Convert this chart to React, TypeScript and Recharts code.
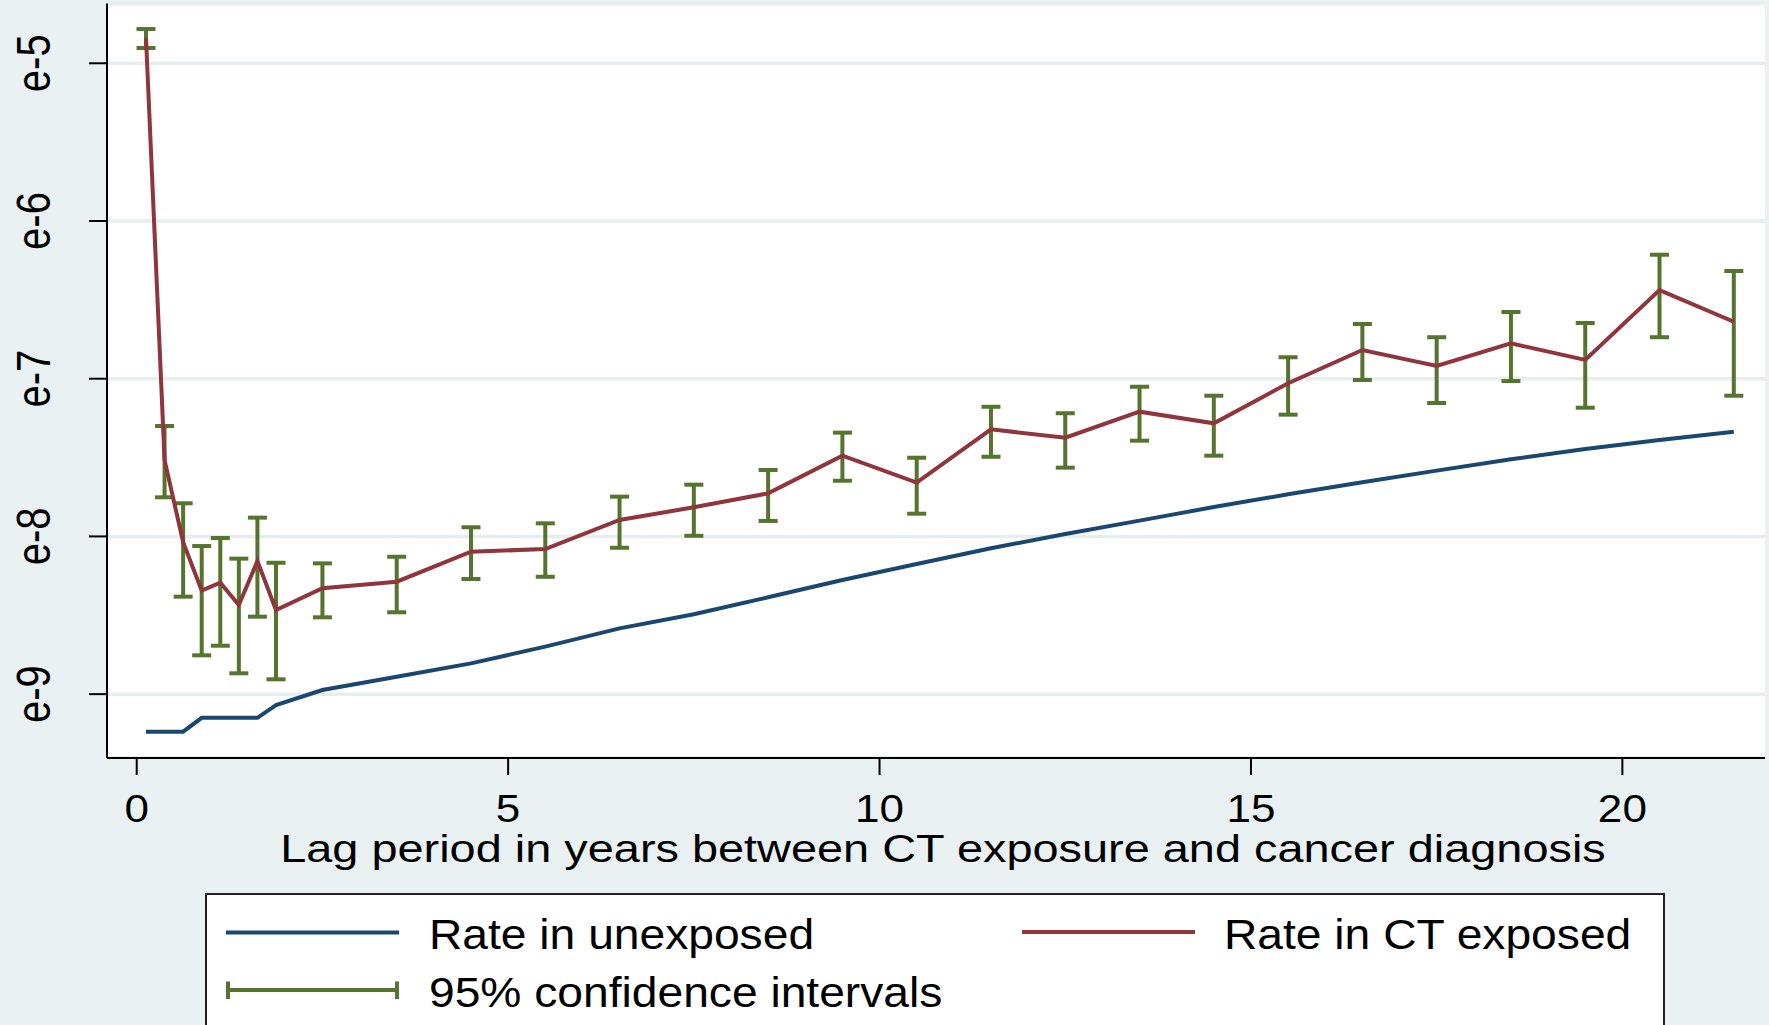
import React from "react";
import {
  ComposedChart,
  Line,
  XAxis,
  YAxis,
  CartesianGrid,
  ErrorBar,
  Legend,
  Label,
} from "recharts";

// lag period midpoints (years)
const lagYears = [
  0.125, 0.375, 0.625, 0.875, 1.125, 1.375, 1.625, 1.875, 2.5, 3.5, 4.5, 5.5, 6.5, 7.5,
  8.5, 9.5, 10.5, 11.5, 12.5, 13.5, 14.5, 15.5, 16.5, 17.5, 18.5, 19.5, 20.5, 21.5,
];

// log rates (natural log scale, axis labelled e-n)
const rateUnexposed = [
  -9.238, -9.238, -9.238, -9.15, -9.15, -9.15, -9.15, -9.069, -8.974, -8.89, -8.805,
  -8.699, -8.583, -8.494, -8.386, -8.276, -8.175, -8.075, -7.985, -7.9, -7.814, -7.733,
  -7.657, -7.583, -7.511, -7.446, -7.389, -7.336,
];

const rateExposed = [
  -4.84, -7.516, -8.036, -8.344, -8.294, -8.435, -8.156, -8.467, -8.329, -8.287, -8.097,
  -8.08, -7.896, -7.815, -7.727, -7.488, -7.659, -7.321, -7.374, -7.209, -7.283, -7.029,
  -6.818, -6.919, -6.776, -6.881, -6.438, -6.639,
];

const ciLower = [
  -4.903, -7.752, -8.382, -8.754, -8.693, -8.868, -8.509, -8.906, -8.513, -8.481, -8.27,
  -8.256, -8.072, -7.996, -7.902, -7.647, -7.856, -7.495, -7.564, -7.393, -7.488, -7.228,
  -7.008, -7.154, -7.015, -7.184, -6.737, -7.108,
];

const ciUpper = [
  -4.783, -7.3, -7.79, -8.061, -8.01, -8.141, -7.881, -8.167, -8.171, -8.129, -7.942,
  -7.917, -7.748, -7.672, -7.579, -7.342, -7.501, -7.178, -7.219, -7.051, -7.108, -6.864,
  -6.653, -6.737, -6.577, -6.647, -6.214, -6.317,
];

const xTicks = [0, 5, 10, 15, 20];
const yTicks = [-9, -8, -7, -6, -5];

const NAVY = "#1A476F";
const MAROON = "#90353B";
const GREEN = "#55752F";
const BG = "#EAF1F3";
const GRID = "#E6EEF0";
const FONT = "'Liberation Sans', Arial, Helvetica, sans-serif";

const data = lagYears.map((lag, i) => ({
  lag,
  unexposed: rateUnexposed[i],
  exposed: rateExposed[i],
  ci: [rateExposed[i] - ciLower[i], ciUpper[i] - rateExposed[i]],
}));

const XTick = (props: any) => {
  const { x, y, payload } = props;
  return (
    <g transform={`translate(${x},${y + 45}) scale(1.13,1)`}>
      <text x={0} y={0} textAnchor="middle" fontSize={39} fontFamily={FONT} fill="#000">
        {payload.value}
      </text>
    </g>
  );
};

const YTick = (props: any) => {
  const { x, y, payload } = props;
  return (
    <g transform={`translate(${x - 37},${y}) scale(1.22,1) rotate(-90)`}>
      <text x={0} y={0} textAnchor="middle" fontSize={40} fontFamily={FONT} fill="#000">
        {`e${payload.value}`}
      </text>
    </g>
  );
};

const AxisTitle = (props: any) => {
  const { viewBox } = props;
  const cx = viewBox.x + viewBox.width / 2 + 7;
  return (
    <g transform={`translate(${cx},${viewBox.y + 104}) scale(1.187,1)`}>
      <text x={0} y={0} textAnchor="middle" fontSize={39.5} fontFamily={FONT} fill="#000">
        Lag period in years between CT exposure and cancer diagnosis
      </text>
    </g>
  );
};

const legendText = (x: number, y: number, s: string) => (
  <g transform={`translate(${x},${y}) scale(1.1,1)`}>
    <text x={0} y={0} fontSize={42} fontFamily={FONT} fill="#000">
      {s}
    </text>
  </g>
);

const StataLegend = () => (
  <div
    style={{
      width: 1460,
      height: 140,
      background: "#fff",
      border: "2px solid #222",
      boxSizing: "border-box",
    }}
  >
    <svg width={1456} height={136} style={{ display: "block" }}>
      <line x1={19} x2={192} y1={37.5} y2={37.5} stroke={NAVY} strokeWidth={4} />
      {legendText(222, 53.5, "Rate in unexposed")}
      <line x1={815} x2={988} y1={37} y2={37} stroke={MAROON} strokeWidth={4} />
      {legendText(1017, 53.5, "Rate in CT exposed")}
      <line x1={19} x2={192} y1={95} y2={95} stroke={GREEN} strokeWidth={4} />
      <line x1={21} x2={21} y1={86.5} y2={104} stroke={GREEN} strokeWidth={4} />
      <line x1={190} x2={190} y1={86.5} y2={104} stroke={GREEN} strokeWidth={4} />
      {legendText(222, 112, "95% confidence intervals")}
    </svg>
  </div>
);

export default function App() {
  return (
    <div
      style={{
        position: "fixed",
        left: 0,
        top: 0,
        width: 1769,
        height: 1025,
        background: BG,
        overflow: "hidden",
      }}
    >
      <ComposedChart
        width={1769}
        height={1025}
        data={data}
        margin={{ top: 3.5, right: 4, left: 0, bottom: 167 }}
      >
        <CartesianGrid vertical={false} stroke={GRID} strokeWidth={3.5} fill="#fff" />
        <XAxis
          dataKey="lag"
          type="number"
          domain={[-0.4, 21.92]}
          ticks={xTicks}
          allowDataOverflow
          height={100}
          tickSize={17}
          axisLine={{ stroke: "#000", strokeWidth: 2 }}
          tickLine={{ stroke: "#000", strokeWidth: 2 }}
          tick={<XTick />}
        >
          <Label content={<AxisTitle />} />
        </XAxis>
        <YAxis
          type="number"
          domain={[-9.405, -4.621]}
          ticks={yTicks}
          allowDataOverflow
          width={107}
          tickSize={18}
          axisLine={{ stroke: "#000", strokeWidth: 2 }}
          tickLine={{ stroke: "#000", strokeWidth: 2 }}
          tick={<YTick />}
        />
        <Legend
          layout="horizontal"
          verticalAlign="middle"
          align="center"
          content={<StataLegend />}
          wrapperStyle={{ left: 205, top: 893, width: 1460, height: 140 }}
        />
        <Line
          dataKey="unexposed"
          name="Rate in unexposed"
          type="linear"
          stroke={NAVY}
          strokeWidth={4}
          dot={false}
          activeDot={false}
          isAnimationActive={false}
        />
        <Line
          dataKey="exposed"
          name="Rate in CT exposed"
          type="linear"
          stroke={MAROON}
          strokeWidth={4}
          dot={false}
          activeDot={false}
          isAnimationActive={false}
        >
          <ErrorBar
            dataKey="ci"
            direction="y"
            width={9.5}
            stroke={GREEN}
            strokeWidth={4}
            isAnimationActive={false}
          />
        </Line>
      </ComposedChart>
    </div>
  );
}
